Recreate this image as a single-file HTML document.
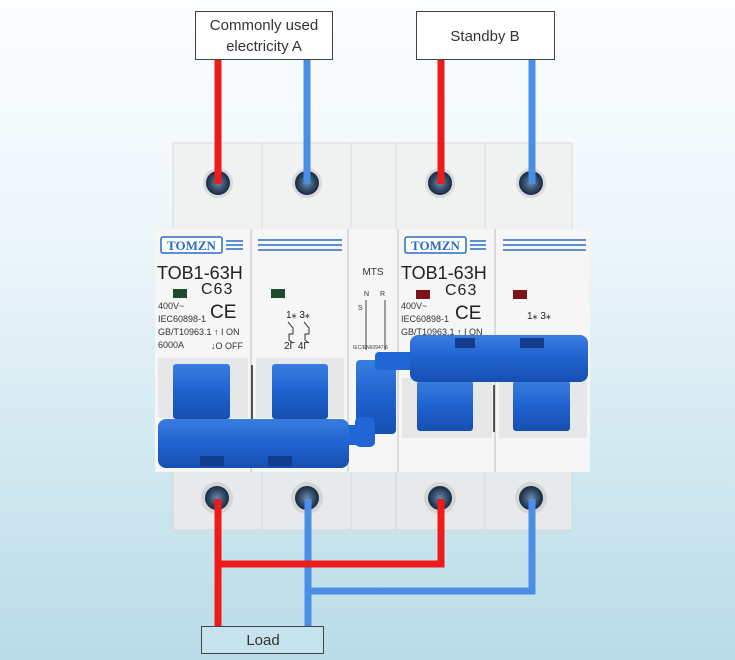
<!DOCTYPE html>
<html><head><meta charset="utf-8"><style>
html,body{margin:0;padding:0;width:735px;height:660px;overflow:hidden}
svg{display:block}
text{font-family:"Liberation Sans",sans-serif}
</style></head><body>
<svg width="735" height="660" viewBox="0 0 735 660" xmlns="http://www.w3.org/2000/svg">
<defs>
<linearGradient id="bg" x1="0" y1="0" x2="0" y2="1">
<stop offset="0" stop-color="#fbfdfe"/><stop offset="0.35" stop-color="#eef6fa"/><stop offset="1" stop-color="#b9dce8"/>
</linearGradient>
<linearGradient id="blue" x1="0" y1="0" x2="0" y2="1">
<stop offset="0" stop-color="#3a7de0"/><stop offset="0.5" stop-color="#1f62d0"/><stop offset="1" stop-color="#164fb0"/>
</linearGradient>
<radialGradient id="scr"><stop offset="0" stop-color="#6c8aa8"/><stop offset="0.7" stop-color="#2c4460"/><stop offset="1" stop-color="#1a2a3e"/></radialGradient>
</defs>
<rect width="735" height="660" fill="url(#bg)"/>

<g fill="#f0f1f1" stroke="#dadcdd" stroke-width="1">
<rect x="173" y="143" width="89" height="88"/>
<rect x="262" y="143" width="89" height="88"/>
<rect x="351" y="143" width="45" height="88"/>
<rect x="396" y="143" width="89" height="88"/>
<rect x="485" y="143" width="87" height="88"/>
</g>
<g fill="#e8e9ea" stroke="#d4d6d8" stroke-width="1">
<rect x="173" y="470" width="89" height="60"/>
<rect x="262" y="470" width="89" height="60"/>
<rect x="351" y="470" width="45" height="60"/>
<rect x="396" y="470" width="89" height="60"/>
<rect x="485" y="470" width="87" height="60"/>
</g>
<rect x="155" y="229" width="435" height="243" fill="#f6f6f6"/>
<g fill="#e6e7e8">
<rect x="158" y="358" width="90" height="60"/>
<rect x="256" y="358" width="88" height="60"/>
<rect x="402" y="378" width="90" height="60"/>
<rect x="499" y="378" width="88" height="60"/>
</g>
<g stroke="#d0d2d4" stroke-width="1.5">
<line x1="251" y1="229" x2="251" y2="472"/>
<line x1="348" y1="229" x2="348" y2="472"/>
<line x1="398" y1="229" x2="398" y2="472"/>
<line x1="495" y1="229" x2="495" y2="472"/>
</g>

<g>
<circle cx="218" cy="183" r="15" fill="#d8dadc"/><circle cx="218" cy="183" r="12" fill="url(#scr)"/>
<circle cx="307" cy="183" r="15" fill="#d8dadc"/><circle cx="307" cy="183" r="12" fill="url(#scr)"/>
<circle cx="440" cy="183" r="15" fill="#d8dadc"/><circle cx="440" cy="183" r="12" fill="url(#scr)"/>
<circle cx="531" cy="183" r="15" fill="#d8dadc"/><circle cx="531" cy="183" r="12" fill="url(#scr)"/>
<circle cx="217" cy="498" r="16" fill="#d3d5d7"/><circle cx="217" cy="498" r="12" fill="url(#scr)"/>
<circle cx="307" cy="498" r="16" fill="#d3d5d7"/><circle cx="307" cy="498" r="12" fill="url(#scr)"/>
<circle cx="440" cy="498" r="16" fill="#d3d5d7"/><circle cx="440" cy="498" r="12" fill="url(#scr)"/>
<circle cx="531" cy="498" r="16" fill="#d3d5d7"/><circle cx="531" cy="498" r="12" fill="url(#scr)"/>
</g>

<g>
<rect x="161" y="237" width="61" height="16" fill="#fff" stroke="#2a6bc8" stroke-width="1.5" rx="2"/>
<text x="191.5" y="250" style="font-family:'Liberation Serif',serif;font-weight:bold" font-size="13" fill="#2a6bc8" text-anchor="middle">TOMZN</text>
<g stroke="#2a6bc8" stroke-width="1.5"><line x1="226" y1="241" x2="243" y2="241"/><line x1="226" y1="245" x2="243" y2="245"/><line x1="226" y1="249" x2="243" y2="249"/>
<line x1="258" y1="240" x2="342" y2="240"/><line x1="258" y1="245" x2="342" y2="245"/><line x1="258" y1="250" x2="342" y2="250"/></g>
<text x="157" y="279" font-size="18" fill="#222">TOB1-63H</text>
<text x="201" y="294" font-size="16" fill="#222" letter-spacing="1">C63</text>
<rect x="173" y="289" width="14" height="9" fill="#1c4a2c"/>
<rect x="271" y="289" width="14" height="9" fill="#1c4a2c"/>
<text x="158" y="309" font-size="9" fill="#333">400V~</text>
<text x="210" y="318" font-size="19" fill="#222">CE</text>
<text x="158" y="322" font-size="9" fill="#333">IEC60898-1</text>
<text x="158" y="335" font-size="9" fill="#333">GB/T10963.1 ↑ I ON</text>
<text x="158" y="348" font-size="9" fill="#333">6000A</text>
<text x="211" y="349" font-size="9" fill="#333">↓O OFF</text>
<text x="286" y="318" font-size="10" fill="#222">1⁎ 3⁎</text>
<text x="284" y="349" font-size="10" fill="#222">2Γ 4Γ</text>
<path d="M288 322 l5 6 v6 h-4 v6 l4 3 M304 322 l5 6 v6 h-4 v6 l4 3" stroke="#333" fill="none" stroke-width="1"/>
<text x="373" y="275" font-size="10" fill="#333" text-anchor="middle">MTS</text>
<text x="364" y="296" font-size="7" fill="#333">N</text><text x="380" y="296" font-size="7" fill="#333">R</text>
<text x="358" y="310" font-size="7" fill="#333">S</text>
<path d="M366 300 v50 M385 300 v50" stroke="#444" stroke-width="1"/>
<text x="353" y="349" font-size="5" fill="#444">IEC/EN60947-6</text>

<rect x="405" y="237" width="61" height="16" fill="#fff" stroke="#2a6bc8" stroke-width="1.5" rx="2"/>
<text x="435.5" y="250" style="font-family:'Liberation Serif',serif;font-weight:bold" font-size="13" fill="#2a6bc8" text-anchor="middle">TOMZN</text>
<g stroke="#2a6bc8" stroke-width="1.5"><line x1="470" y1="241" x2="486" y2="241"/><line x1="470" y1="245" x2="486" y2="245"/><line x1="470" y1="249" x2="486" y2="249"/>
<line x1="503" y1="240" x2="586" y2="240"/><line x1="503" y1="245" x2="586" y2="245"/><line x1="503" y1="250" x2="586" y2="250"/></g>
<text x="401" y="279" font-size="18" fill="#222">TOB1-63H</text>
<text x="445" y="295" font-size="16" fill="#222" letter-spacing="1">C63</text>
<rect x="416" y="290" width="14" height="9" fill="#7a1418"/>
<rect x="513" y="290" width="14" height="9" fill="#7a1418"/>
<text x="401" y="309" font-size="9" fill="#333">400V~</text>
<text x="455" y="319" font-size="19" fill="#222">CE</text>
<text x="401" y="322" font-size="9" fill="#333">IEC60898-1</text>
<text x="401" y="335" font-size="9" fill="#333">GB/T10963.1 ↑ I ON</text>
<text x="527" y="319" font-size="10" fill="#222">1⁎ 3⁎</text>
</g>

<g fill="url(#blue)">
<rect x="173" y="364" width="57" height="55" rx="3"/>
<rect x="272" y="364" width="56" height="55" rx="3"/>
<rect x="417" y="381" width="56" height="50" rx="3"/>
<rect x="513" y="381" width="57" height="50" rx="3"/>
<rect x="356" y="360" width="40" height="74" rx="4"/>
</g>
<g stroke="#222" stroke-width="1.5"><line x1="252" y1="365" x2="252" y2="420"/><line x1="494" y1="385" x2="494" y2="432"/></g>
<rect x="375" y="352" width="40" height="18" rx="4" fill="#2066d4"/>
<rect x="410" y="335" width="178" height="47" rx="8" fill="url(#blue)"/>
<rect x="455" y="338" width="20" height="10" fill="#143c8c"/>
<rect x="520" y="338" width="24" height="10" fill="#143c8c"/>
<rect x="340" y="425" width="22" height="20" rx="3" fill="#2066d4"/>
<rect x="355" y="417" width="20" height="30" rx="5" fill="#2066d4"/>
<rect x="158" y="419" width="191" height="49" rx="8" fill="url(#blue)"/>
<rect x="200" y="456" width="24" height="10" fill="#143c8c"/>
<rect x="268" y="456" width="24" height="10" fill="#143c8c"/>

<g stroke-width="7" fill="none" stroke-linecap="butt">
<line x1="218" y1="59" x2="218" y2="184" stroke="#ee1b1b"/>
<line x1="307" y1="59" x2="307" y2="184" stroke="#4a8ee6"/>
<line x1="441" y1="59" x2="441" y2="184" stroke="#ee1b1b"/>
<line x1="532" y1="59" x2="532" y2="184" stroke="#4a8ee6"/>
<polyline points="308,499 308,591 532,591 532,499" stroke="#4a8ee6"/>
<line x1="308" y1="499" x2="308" y2="626" stroke="#4a8ee6"/>
<polyline points="218,499 218,564 441,564 441,499" stroke="#ee1b1b"/>
<line x1="218" y1="499" x2="218" y2="626" stroke="#ee1b1b"/>
</g>

<rect x="195.5" y="11.5" width="137" height="48" fill="#fff" stroke="#444" stroke-width="1"/>
<text x="264" y="30" font-size="15" fill="#333" text-anchor="middle">Commonly used</text>
<text x="264" y="51" font-size="15" fill="#333" text-anchor="middle">electricity A</text>
<rect x="416.5" y="11.5" width="138" height="48" fill="#fff" stroke="#444" stroke-width="1"/>
<text x="485" y="41" font-size="15" fill="#333" text-anchor="middle">Standby  B</text>
<rect x="201.5" y="626.5" width="122" height="27" fill="#c6e2ec" stroke="#444" stroke-width="1"/>
<text x="263" y="645" font-size="15" fill="#333" text-anchor="middle">Load</text>
</svg>
</body></html>
